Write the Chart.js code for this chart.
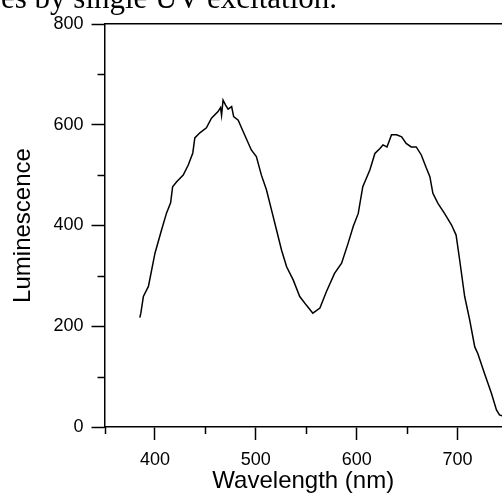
<!DOCTYPE html>
<html>
<head>
<meta charset="utf-8">
<script src="https://cdn.jsdelivr.net/npm/chart.js@4/dist/chart.umd.min.js"></script>
<style>
  body { margin: 0; background: #fff; }
  #wrap { position: relative; width: 502px; height: 495px; overflow: hidden; }
  #caption { position: absolute; left: 1px; top: -18px; font: 31px/31px "Liberation Serif", serif; color: #000; white-space: nowrap; }
  canvas { position: absolute; left: 0; top: 0; }
</style>
</head>
<body>
<div id="wrap">
  <canvas id="myChart" width="502" height="495"></canvas>
  <div id="caption">es by single UV excitation.</div>
</div>
<script>
// spectrum
const wavelength = [385, 386, 388.5, 393.5, 400, 406.5, 411.5, 415.5, 417.5, 421.5,
  428, 433, 437.5, 439.5, 444.5, 451, 456, 462.5, 465, 466,
  467.5, 470, 472.5, 476, 478, 482.5, 487.5, 495.5, 500.5, 505.5,
  510.5, 515.5, 520.5, 525.5, 530.5, 537, 543.5, 550, 556.5, 563.5,
  570, 578, 585, 591.5, 596.5, 601.5, 606, 613, 618, 623,
  626, 630, 634.5, 639.5, 644.5, 649, 654, 659, 664, 669,
  672.5, 675.5, 680.5, 687, 694, 698.5, 702, 707, 712, 717,
  720, 726.5, 733.5, 738.5, 741.5, 744]
const luminescence = [217, 226, 259, 279, 345, 391, 425, 445, 477, 487,
  500, 520, 544, 574, 584, 594, 613, 626, 634, 619,
  649, 639, 631, 636, 616, 609, 586, 550, 537, 500,
  471, 431, 391, 351, 318, 292, 259, 242, 226, 236,
  269, 305, 325, 365, 398, 424, 477, 510, 543, 553,
  560, 556, 580, 580, 576, 563, 556, 556, 540, 514,
  497, 464, 444, 424, 401, 381, 332, 259, 212, 159,
  146, 107, 67, 34, 24, 22]

const xMajor = [400, 500, 600, 700]
const yMajor = [0, 200, 400, 600, 800]

const negro = '#000'
const fuente = '"Liberation Sans", Arial, sans-serif'

// ticks menores (mas cortos) dibujados aparte
const ticksMenores = {
  id: 'ticksMenores',
  afterDraw(chart) {
    const ctx = chart.ctx
    const x = chart.scales.x
    const y = chart.scales.y
    ctx.save()
    ctx.strokeStyle = negro
    ctx.lineWidth = 1.5
    ctx.beginPath()
    x.ticks.forEach(t => {
      if (!xMajor.includes(t.value)) {
        const px = Math.round(x.getPixelForValue(t.value)) + 0.5
        ctx.moveTo(px, x.top)
        ctx.lineTo(px, x.top + 7)
      }
    })
    y.ticks.forEach(t => {
      if (!yMajor.includes(t.value)) {
        const py = Math.round(y.getPixelForValue(t.value)) + 0.5
        ctx.moveTo(y.right, py)
        ctx.lineTo(y.right - 7, py)
      }
    })
    ctx.stroke()
    ctx.restore()
  }
}

const ctx = document.getElementById('myChart')

new Chart(ctx, {
  type: 'line',
  data: {
    datasets: [{
      data: wavelength.map((w, i) => ({ x: w, y: luminescence[i] })),
      borderColor: negro,
      borderWidth: 1.5,
      pointRadius: 0,
      fill: false,
      tension: 0
    }]
  },
  options: {
    responsive: false,
    animation: false,
    events: [],
    layout: { padding: { left: 0, right: 0, top: 24, bottom: 0 } },
    plugins: { legend: { display: false }, tooltip: { enabled: false } },
    scales: {
      x: {
        type: 'linear',
        min: 350,
        max: 744,
        grid: {
          drawOnChartArea: false,
          drawTicks: true,
          tickLength: 13,
          tickWidth: 1.5,
          tickColor: c => xMajor.includes(c.tick && c.tick.value) ? negro : 'rgba(0,0,0,0)'
        },
        border: { display: true, color: negro, width: 1.5 },
        ticks: {
          stepSize: 50,
          includeBounds: false,
          maxRotation: 0,
          autoSkip: false,
          padding: 11,
          color: negro,
          font: { family: fuente, size: 18, lineHeight: 1 },
          callback: v => xMajor.includes(v) ? v : ''
        },
        title: {
          display: true,
          text: 'Wavelength (nm)',
          color: negro,
          font: { family: fuente, size: 24, lineHeight: 1 },
          padding: { top: -11, bottom: 2 }
        }
      },
      x2: {
        type: 'linear',
        position: 'top',
        min: 350,
        max: 744,
        grid: { display: false, drawTicks: false },
        border: { display: true, color: negro, width: 1.5 },
        ticks: { display: false }
      },
      y: {
        min: 0,
        max: 800,
        grid: {
          drawOnChartArea: false,
          drawTicks: true,
          tickLength: 13,
          tickWidth: 1.5,
          tickColor: c => yMajor.includes(c.tick && c.tick.value) ? negro : 'rgba(0,0,0,0)'
        },
        border: { display: true, color: negro, width: 1.5 },
        ticks: {
          stepSize: 100,
          autoSkip: false,
          padding: 8,
          color: negro,
          font: { family: fuente, size: 18, lineHeight: 1 },
          callback: v => yMajor.includes(v) ? v : ''
        },
        title: {
          display: true,
          text: 'Luminescence',
          color: negro,
          font: { family: fuente, size: 24, lineHeight: 1 },
          padding: { top: 11.5, bottom: 10 }
        }
      }
    }
  },
  plugins: [ticksMenores]
})
</script>
</body>
</html>
